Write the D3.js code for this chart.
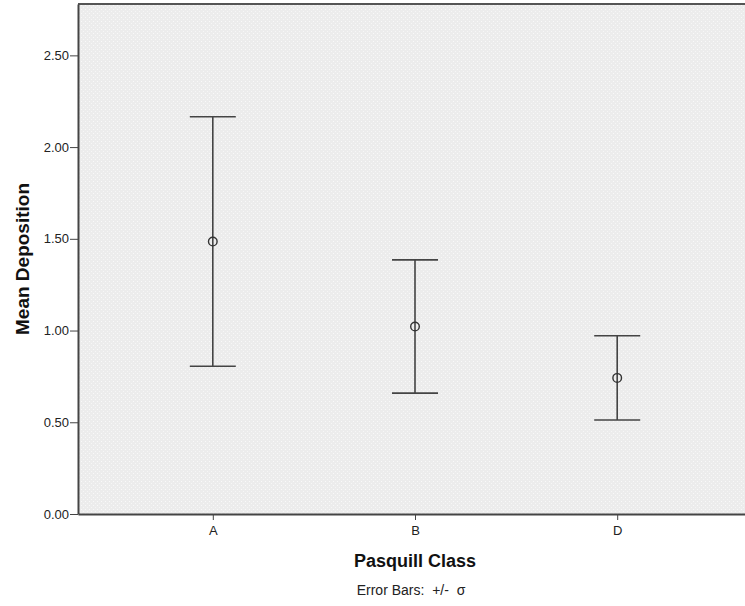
<!DOCTYPE html>
<html>
<head>
<meta charset="utf-8">
<script src="https://cdn.jsdelivr.net/npm/d3@7"></script>
<style>
  body { margin: 0; background: #fff; }
  svg { display: block; font-family: "Liberation Sans", Arial, sans-serif; }
  .axis text { font-size: 13px; fill: #222; }
  .axis path, .axis line { stroke: #444; }
  .title { font-size: 18px; font-weight: bold; fill: #111; }
</style>
</head>
<body>
<div id="chart"></div>
<script>
const categories = ['A', 'B', 'D'];
const means = [1.485, 1.022, 0.742];
const sds = [0.68, 0.363, 0.23];
const yTicks = [0, 0.5, 1, 1.5, 2, 2.5];

const w = 745;
const h = 606;
const plotLeft = 78, plotTop = 4, plotBottom = 514, plotRight = 752;

const xScale = d3.scalePoint()
                 .domain(categories)
                 .range([plotLeft, plotRight])
                 .padding(2 / 3);

const yScale = d3.scaleLinear()
                 .domain([0, 2.78])
                 .range([plotBottom, plotTop]);

const svg = d3.select('#chart')
              .append('svg')
              .attr('width', w)
              .attr('height', h);

//dotted plot background
const pat = svg.append('defs').append('pattern')
               .attr('id', 'dots')
               .attr('patternUnits', 'userSpaceOnUse')
               .attr('width', 4)
               .attr('height', 4);
pat.append('rect').attr('width', 4).attr('height', 4).attr('fill', '#ececec');
pat.append('rect').attr('x', 1).attr('y', 1).attr('width', 1).attr('height', 1).attr('fill', '#f9f9f9');
pat.append('rect').attr('x', 3).attr('y', 3).attr('width', 1).attr('height', 1).attr('fill', '#f6f6f6');

svg.append('rect')
   .attr('x', plotLeft)
   .attr('y', plotTop)
   .attr('width', plotRight - plotLeft)
   .attr('height', plotBottom - plotTop)
   .attr('fill', 'url(#dots)');

//top frame line
svg.append('line')
   .attr('x1', plotLeft).attr('x2', plotRight)
   .attr('y1', plotTop).attr('y2', plotTop)
   .attr('stroke', '#555')
   .attr('stroke-width', 2);

//Axes
const yAxis = d3.axisLeft(yScale)
                .tickValues(yTicks)
                .tickFormat(d3.format('.2f'))
                .tickSize(8)
                .tickPadding(1)
                .tickSizeOuter(0);

const xAxis = d3.axisBottom(xScale)
                .tickSize(6)
                .tickPadding(6)
                .tickSizeOuter(0);

svg.append('g')
   .attr('class', 'axis')
   .attr('transform', `translate(${plotLeft}, 0)`)
   .call(yAxis)
   .call(g => g.select('.domain').attr('stroke-width', 2));

svg.append('g')
   .attr('class', 'axis')
   .attr('transform', `translate(0, ${plotBottom})`)
   .call(xAxis)
   .call(g => g.select('.domain').attr('stroke-width', 2));

//Error bars
const bars = svg.selectAll('.err')
                .data(categories)
                .enter()
                .append('g')
                .attr('class', 'err')
                .attr('stroke', '#444')
                .attr('stroke-width', 1.6);

bars.append('line')
    .attr('x1', d => xScale(d)).attr('x2', d => xScale(d))
    .attr('y1', (d, i) => yScale(means[i] + sds[i]))
    .attr('y2', (d, i) => yScale(means[i] - sds[i]));

bars.append('line')
    .attr('x1', d => xScale(d) - 23).attr('x2', d => xScale(d) + 23)
    .attr('y1', (d, i) => yScale(means[i] + sds[i]))
    .attr('y2', (d, i) => yScale(means[i] + sds[i]));

bars.append('line')
    .attr('x1', d => xScale(d) - 23).attr('x2', d => xScale(d) + 23)
    .attr('y1', (d, i) => yScale(means[i] - sds[i]))
    .attr('y2', (d, i) => yScale(means[i] - sds[i]));

bars.append('circle')
    .attr('cx', d => xScale(d))
    .attr('cy', (d, i) => yScale(means[i]))
    .attr('r', 4.3)
    .attr('fill', 'none')
    .attr('stroke', '#333')
    .attr('stroke-width', 1.4);

//Labels
svg.append('text')
   .attr('class', 'title')
   .attr('text-anchor', 'middle')
   .attr('x', 415)
   .attr('y', 567)
   .text('Pasquill Class');

svg.append('text')
   .attr('text-anchor', 'middle')
   .attr('x', 411)
   .attr('y', 595)
   .style('font-size', '14px')
   .style('fill', '#222')
   .style('white-space', 'pre')
   .text('Error Bars:  +/-  σ');

svg.append('text')
   .attr('class', 'title')
   .attr('text-anchor', 'middle')
   .attr('transform', 'rotate(-90)')
   .attr('x', -259)
   .attr('y', 29)
   .style('font-size', '19px')
   .text('Mean Deposition');
</script>
</body>
</html>
